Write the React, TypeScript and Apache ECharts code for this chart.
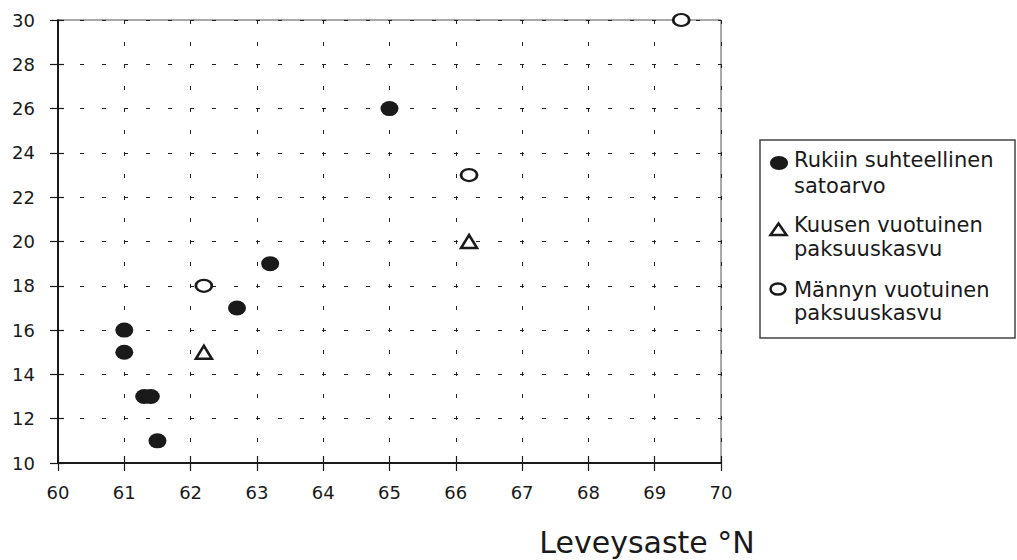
import React, { useEffect, useRef } from "react";
import * as echarts from "echarts";

// Data
const ryeLat = [61, 61, 61.3, 61.4, 61.5, 62.7, 63.2, 65];
const ryeVal = [16, 15, 13, 13, 11, 17, 19, 26];
const spruceLat = [62.2, 66.2];
const spruceVal = [15, 20];
const pineLat = [62.2, 66.2, 69.4];
const pineVal = [18, 23, 30];

const seriesNames = [
  ["Rukiin suhteellinen", "satoarvo"],
  ["Kuusen vuotuinen", "paksuuskasvu"],
  ["Männyn vuotuinen", "paksuuskasvu"],
];
const xTitle = "Leveysaste °N";

const FONT = "'DejaVu Sans', Arial, sans-serif";
const INK = "#1a1a1a";
const ELLIPSE = "path://M-1,0A1,1,0,1,1,1,0A1,1,0,1,1,-1,0Z";

const zip = (a: number[], b: number[]) => a.map((v, i) => [v, b[i]]);

export default function App() {
  const ref = useRef<HTMLDivElement>(null);
  useEffect(() => {
    if (!ref.current) return;
    const chart = echarts.init(ref.current, null, { renderer: "svg" });
    const gridPos = { left: 58, top: 20, right: 296, bottom: 97 };
    chart.setOption({
      animation: false,
      backgroundColor: "#ffffff",
      grid: [
        { ...gridPos, show: true, borderColor: "#555", borderWidth: 1, backgroundColor: "transparent" },
        { ...gridPos, show: false },
      ],
      xAxis: [
        {
          type: "value",
          gridIndex: 0,
          min: 60,
          max: 70,
          interval: 1,
          axisLine: { show: true, onZero: false, lineStyle: { color: INK, width: 2 } },
          axisTick: { show: true, length: 8, lineStyle: { color: INK, width: 1.2 } },
          axisLabel: { margin: 20, color: INK, fontFamily: FONT, fontSize: 18 },
          splitLine: { show: true, lineStyle: { color: "#222", width: 1, type: [4, 18] } },
        },
        {
          type: "value",
          gridIndex: 1,
          min: 60,
          max: 70,
          interval: 1,
          axisLine: { show: false, onZero: false },
          axisTick: { show: true, inside: true, length: 7, lineStyle: { color: INK, width: 1.2 } },
          axisLabel: { show: false },
          splitLine: { show: false },
        },
      ],
      yAxis: [
        {
          type: "value",
          gridIndex: 0,
          min: 10,
          max: 30,
          interval: 2,
          axisLine: { show: true, onZero: false, lineStyle: { color: INK, width: 2 } },
          axisTick: { show: true, length: 8, lineStyle: { color: INK, width: 1.2 } },
          axisLabel: { margin: 23, color: INK, fontFamily: FONT, fontSize: 18 },
          splitLine: { show: true, lineStyle: { color: "#222", width: 1, type: [4, 18] } },
        },
        {
          type: "value",
          gridIndex: 1,
          min: 10,
          max: 30,
          interval: 2,
          axisLine: { show: false, onZero: false },
          axisTick: { show: true, inside: true, length: 6, lineStyle: { color: INK, width: 1.2 } },
          axisLabel: { show: false },
          splitLine: { show: false },
        },
      ],
      series: [
        {
          name: seriesNames[0].join(" "),
          type: "scatter",
          xAxisIndex: 0,
          yAxisIndex: 0,
          clip: false,
          symbol: ELLIPSE,
          symbolSize: [18, 15],
          itemStyle: { color: INK, opacity: 1 },
          data: zip(ryeLat, ryeVal),
        },
        {
          name: seriesNames[1].join(" "),
          type: "scatter",
          xAxisIndex: 0,
          yAxisIndex: 0,
          clip: false,
          symbol: "triangle",
          symbolSize: [16, 13],
          itemStyle: { color: "#fff", borderColor: INK, borderWidth: 2.5, opacity: 1 },
          data: zip(spruceLat, spruceVal),
        },
        {
          name: seriesNames[2].join(" "),
          type: "scatter",
          xAxisIndex: 0,
          yAxisIndex: 0,
          clip: false,
          symbol: ELLIPSE,
          symbolSize: [16, 12],
          itemStyle: { color: "#fff", borderColor: INK, borderWidth: 2.5, opacity: 1 },
          data: zip(pineLat, pineVal),
        },
      ],
      graphic: [
        {
          type: "rect",
          shape: { x: 760, y: 140, width: 255, height: 198 },
          style: { fill: "#fff", stroke: "#444", lineWidth: 1.5 },
        },
        {
          type: "ellipse",
          shape: { cx: 779, cy: 163, rx: 9, ry: 7 },
          style: { fill: INK },
        },
        {
          type: "polygon",
          shape: { points: [[778.5, 223.5], [770.5, 235], [786.5, 235]] },
          style: { fill: "#fff", stroke: INK, lineWidth: 2.5 },
        },
        {
          type: "ellipse",
          shape: { cx: 778, cy: 289, rx: 7.5, ry: 5.5 },
          style: { fill: "#fff", stroke: INK, lineWidth: 2.5 },
        },
        ...[
          [seriesNames[0][0], 160],
          [seriesNames[0][1], 186],
          [seriesNames[1][0], 225],
          [seriesNames[1][1], 249],
          [seriesNames[2][0], 290],
          [seriesNames[2][1], 313],
        ].map(([t, y]) => ({
          type: "text",
          x: 794,
          y: y as number,
          style: {
            text: t as string,
            font: `21px ${FONT}`,
            fill: INK,
            align: "left",
            verticalAlign: "middle",
          },
        })),
        {
          type: "text",
          x: 647,
          y: 542,
          style: {
            text: xTitle,
            font: `30px ${FONT}`,
            fill: INK,
            align: "center",
            verticalAlign: "middle",
          },
        },
      ],
    });
    return () => chart.dispose();
  }, []);
  return (
    <div
      ref={ref}
      style={{ position: "fixed", left: 0, top: 0, width: 1017, height: 560 }}
    />
  );
}
